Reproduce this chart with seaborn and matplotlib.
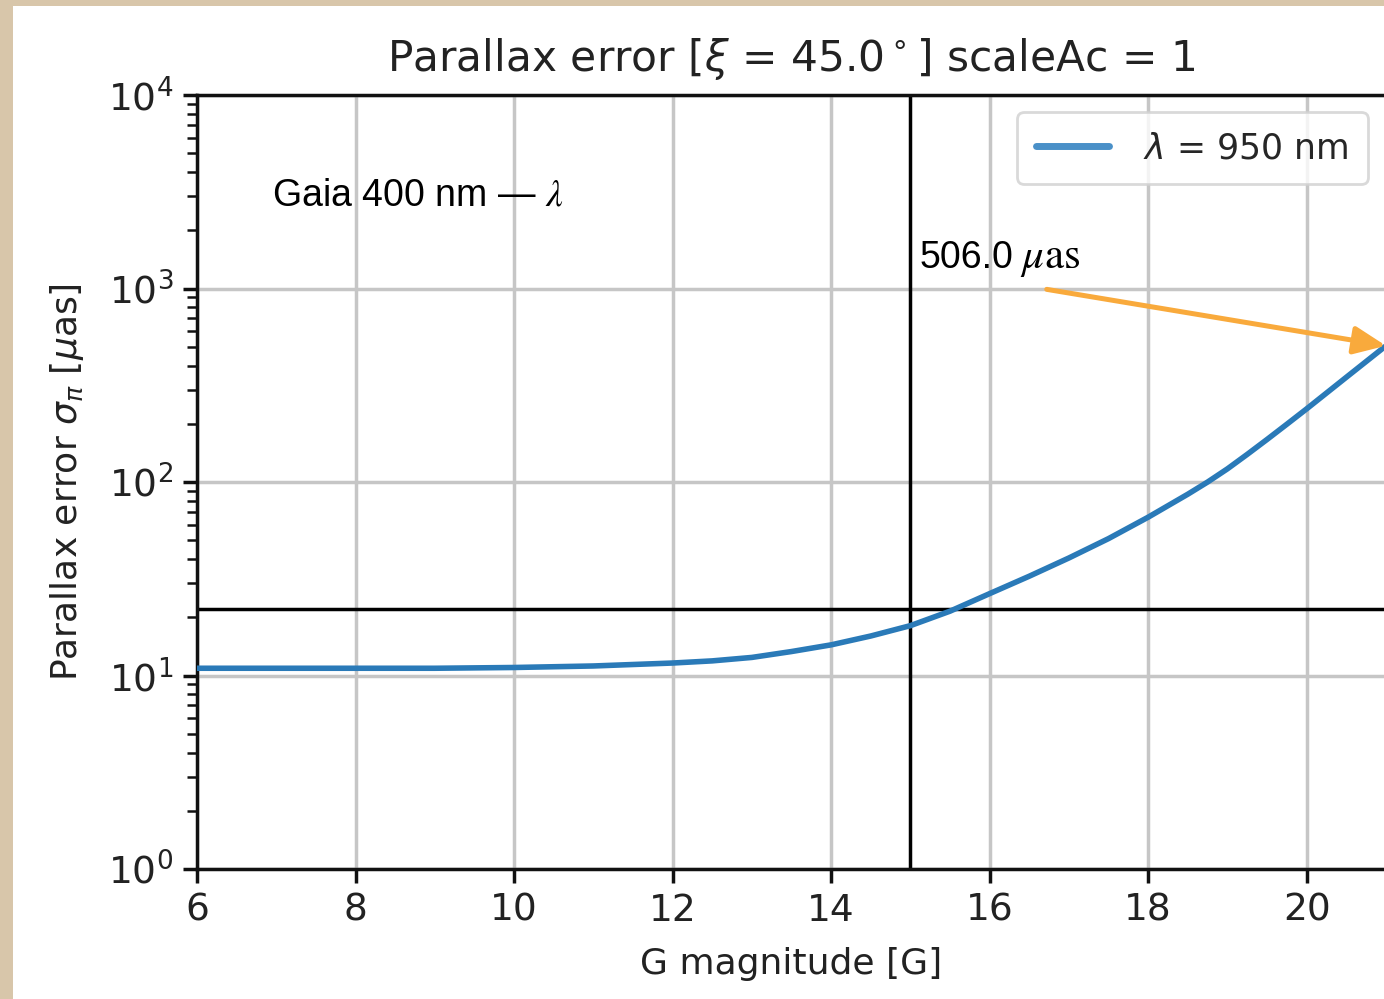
import matplotlib
matplotlib.use("Agg")
import matplotlib.pyplot as plt
from matplotlib.patches import Rectangle
import seaborn as sns

# G magnitude grid and the corresponding parallax error (micro-arcseconds)
mag = [6, 7, 8, 9, 10, 11, 12, 12.5, 13, 13.5, 14, 14.5, 15, 15.5, 16,
       16.5, 17, 17.5, 18, 18.5, 18.75, 19, 19.25, 19.5, 19.75, 20, 20.5, 21]
sigma = [10.9, 10.9, 10.9, 10.9, 11.0, 11.2, 11.6, 11.9, 12.4, 13.3, 14.4,
         16.0, 18.1, 21.5, 26.5, 32.6, 40.5, 51.0, 65.8, 86.5, 100.0, 117.0,
         139.0, 166.0, 199.0, 239.0, 348.0, 506.0]

x_ticks = [6, 8, 10, 12, 14, 16, 18, 20]
ref_mag = 15.0
ref_sigma = 22.0
end_mag = 21.0
end_sigma = 506.0
series_label = r"$\lambda$ = 950 nm"

sns.set_style("white")
plt.rcParams["font.family"] = ["DejaVu Sans"]

W, H = 1384, 999
fig = plt.figure(figsize=(W / 100, H / 100), dpi=100)
fig.patch.set_facecolor("#d8c6aa")
fig.add_artist(Rectangle((13 / W, 0), 1, 1 - 6 / H, transform=fig.transFigure,
                         facecolor="white", edgecolor="none", zorder=-10))

ax = fig.add_axes([197 / W, 1 - 869 / H, 1189 / W, 774 / H])
ax.set_facecolor("white")

sns.lineplot(x=mag, y=sigma, ax=ax, color="#2a7ab8", lw=4, label=series_label,
             zorder=3)

ax.set_yscale("log")
ax.set_xlim(6, 21)
ax.set_ylim(1, 1e4)
ax.set_xticks(x_ticks)
ax.grid(True, which="major", color="#c6c6c6", lw=2.5)
ax.axvline(ref_mag, color="black", lw=2.5, zorder=2)
ax.axhline(ref_sigma, color="black", lw=2.5, zorder=2)

for s in ax.spines.values():
    s.set_color("#111111")
    s.set_linewidth(2.5)

ax.tick_params(axis="both", which="major", labelsize=27, length=10, width=2.5,
               colors="#111111", labelcolor="#222222", pad=7, direction="out",
               left=True, bottom=True)
ax.tick_params(axis="y", which="minor", length=7, width=1.8, left=True,
               colors="#111111")

ax.set_title(r"Parallax error [$\xi$ = 45.0$^\circ$] scaleAc = 1",
             fontsize=30.5, color="#222222", pad=17)
ax.set_xlabel("G magnitude [G]", fontsize=26, color="#222222", labelpad=13)
ax.set_ylabel(r"Parallax error $\sigma_\pi$ [$\mu$as]", fontsize=26,
              color="#222222", labelpad=16)

leg = ax.legend(loc="upper right", bbox_to_anchor=(1368 / W, 1 - 112 / H),
                bbox_transform=fig.transFigure, fontsize=25, frameon=True,
                handlelength=2.1, borderpad=0.55, handletextpad=1.0,
                borderaxespad=0.0)
leg.get_frame().set_edgecolor("#d0d0d0")
leg.get_frame().set_linewidth(2)
for line in leg.get_lines():
    line.set_linewidth(5)
    line.set_color("#4a90c8")

ax.text(6.95, 2700, r"Gaia 400 nm — $\lambda$", fontsize=27,
        family="Liberation Sans", math_fontfamily="stix", color="black",
        va="baseline", zorder=5)
ax.text(15.12, 1280, "506.0", fontsize=27,
        family="Liberation Sans", color="black", va="baseline", zorder=5)
ax.annotate(r"$\mu\mathrm{as}$", xy=(15.12, 1280), xytext=(72, 0),
            textcoords="offset points", fontsize=31, math_fontfamily="stix",
            color="black", va="baseline", zorder=5)
ax.annotate("", xy=(end_mag, end_sigma), xytext=(16.72, 990),
            arrowprops=dict(arrowstyle="-|>,head_length=0.39,head_width=0.17",
                            mutation_scale=50, color="#f9aa3c", lw=3.6,
                            shrinkA=0, shrinkB=0),
            annotation_clip=False, zorder=6)

fig.savefig("out.png", dpi=100, facecolor=fig.get_facecolor())
